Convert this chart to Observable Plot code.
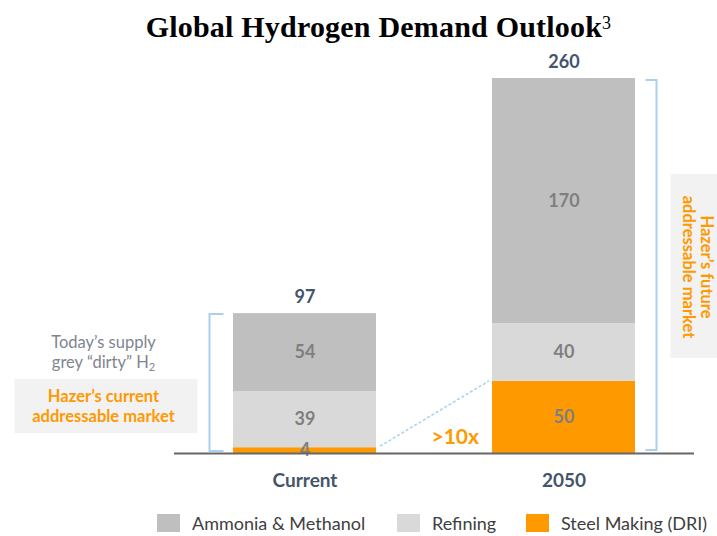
<!DOCTYPE html>
<html>
<head>
<meta charset="utf-8">
<script src="https://cdn.jsdelivr.net/npm/d3@7"></script>
<script src="https://cdn.jsdelivr.net/npm/@observablehq/plot@0.6"></script>
<style>
  body { margin: 0; background: #fff; width: 717px; height: 536px; overflow: hidden; font-family: Lato, "Open Sans", sans-serif; }
  #title { height: 40px; box-sizing: border-box; padding-left: 40px; padding-top: 10px; text-align: center; font-family: "Liberation Serif", "DejaVu Serif", serif; font-weight: bold; font-size: 30px; color: #000; line-height: 34px; letter-spacing: 0.2px; }
  #title sup { font-weight: normal; font-size: 18px; vertical-align: 0; position: relative; top: -8px; }
  #legend { position: relative; height: 30px; }
  .li { position: absolute; top: 7px; display: flex; align-items: center; font-size: 18px; line-height: 20px; color: #404040; }
  .sw { width: 23px; height: 18px; margin-right: 12px; }
</style>
</head>
<body>
<div id="title">Global Hydrogen Demand Outlook<sup>3</sup></div>
<div id="chart"></div>
<div id="legend"></div>
<script>
const periods = ["Current", "2050"];
const sectors = ["Steel Making (DRI)", "Refining", "Ammonia & Methanol"];
const legendOrder = ["Ammonia & Methanol", "Refining", "Steel Making (DRI)"];
const colors = ["#ff9900", "#d9d9d9", "#bfbfbf"];
const ammonia = [54, 170];
const refining = [39, 40];
const steel = [4, 50];
const totals = [97, 260];

const rows = [];
periods.forEach((p, i) => {
  rows.push({period: p, sector: sectors[0], value: steel[i]});
  rows.push({period: p, sector: sectors[1], value: refining[i]});
  rows.push({period: p, sector: sectors[2], value: ammonia[i]});
});
const totalRows = periods.map((p, i) => ({period: p, total: totals[i]}));

const W = 717, H = 466;
const plot = Plot.plot({
  width: W, height: H,
  marginTop: 38, marginBottom: 53, marginLeft: 174, marginRight: 23,
  style: {fontFamily: "Lato, 'Open Sans', sans-serif", background: "transparent", overflow: "visible"},
  x: {domain: periods, range: [232, 636], paddingInner: 0.446, paddingOuter: 0, label: null},
  y: {domain: [0, 260], axis: null},
  color: {domain: sectors, range: colors},
  marks: [
    Plot.barY(rows, Plot.stackY({x: "period", y: "value", z: "sector", fill: "sector", order: sectors})),
    Plot.text(rows, Plot.stackY({x: "period", y: "value", z: "sector", order: sectors, text: d => String(d.value),
      fill: "#7f7f7f", fontSize: 18, fontWeight: "bold"})),
    Plot.text(totalRows, {x: "period", y: "total", text: d => String(d.total), dy: -16, fill: "#44546a", fontSize: 18, fontWeight: "bold"}),
    Plot.ruleY([0], {stroke: "#666", strokeWidth: 2}),
    Plot.axisX({tickSize: 0, tickPadding: 20, fontSize: 19, fontWeight: "bold", color: "#44546a", label: null})
  ]
});
document.getElementById("chart").appendChild(plot);

// annotations positioned from the plot's scales
const xs = plot.scale("x"), ys = plot.scale("y");
const bw = xs.bandwidth;
const xStart = p => xs.apply(p);
const xMid = p => xs.apply(p) + bw / 2;
const y = v => ys.apply(v);
const svg = d3.select(plot);
const g = svg.append("g");
const blue = "#a9d0ee";

// left bracket
const lbx = xMid("Current") - 95;
g.append("path").attr("fill", "none").attr("stroke", blue).attr("stroke-width", 2)
  .attr("d", `M${lbx + 14},${y(totals[0]) + 1}H${lbx}V${y(0) - 2}H${lbx + 14}`);
// right bracket
const rbx = xMid("2050") + 93;
g.append("path").attr("fill", "none").attr("stroke", blue).attr("stroke-width", 2)
  .attr("d", `M${rbx - 11},${y(totals[1]) + 2}H${rbx}V${y(0) - 3}H${rbx - 11}`);
// dotted connector
g.append("line").attr("stroke", blue).attr("stroke-width", 1.5).attr("stroke-dasharray", "3,2")
  .attr("x1", xStart("Current") + bw + 4).attr("y1", y(steel[0]) - 1)
  .attr("x2", xStart("2050") - 3).attr("y2", y(steel[1]));
// >10x
g.append("text").attr("x", xStart("2050") - 13).attr("y", y(0) - 9).attr("text-anchor", "end")
  .attr("fill", "#ff9900").attr("font-size", 21).attr("font-weight", "bold").text(">10x");

// left annotation
const lcx = lbx - 106;
g.append("text").attr("x", lcx).attr("y", y(0) - 105).attr("text-anchor", "middle")
  .attr("fill", "#7f8491").attr("font-size", 16.5).text("Today’s supply");
const t2 = g.append("text").attr("x", lcx).attr("y", y(0) - 85).attr("text-anchor", "middle")
  .attr("fill", "#7f8491").attr("font-size", 16.5);
t2.append("tspan").text("grey “dirty” H");
t2.append("tspan").attr("font-size", 11).attr("dy", 3).text("2");
g.append("rect").attr("x", lbx - 195).attr("y", y(0) - 74).attr("width", 183).attr("height", 54).attr("fill", "#f2f2f2");
g.append("text").attr("x", lcx).attr("y", y(0) - 51).attr("text-anchor", "middle")
  .attr("fill", "#ff9900").attr("font-size", 16.5).attr("font-weight", "bold").text("Hazer’s current");
g.append("text").attr("x", lcx).attr("y", y(0) - 31).attr("text-anchor", "middle")
  .attr("fill", "#ff9900").attr("font-size", 16.5).attr("font-weight", "bold").text("addressable market");

// right annotation
g.append("rect").attr("x", rbx + 14).attr("y", y(0) - 279).attr("width", 60).attr("height", 184).attr("fill", "#f2f2f2");
const rt = g.append("text").attr("transform", `translate(${rbx + 40},${y(0) - 186}) rotate(90)`)
  .attr("text-anchor", "middle").attr("fill", "#ff9900").attr("font-size", 16.5).attr("font-weight", "bold");
rt.append("tspan").attr("x", 0).attr("dy", -4).text("Hazer’s future");
rt.append("tspan").attr("x", 0).attr("dy", 18).text("addressable market");

// legend
const lx = [157, 397, 526];
const leg = document.getElementById("legend");
legendOrder.forEach((s, i) => {
  const item = document.createElement("div");
  item.className = "li";
  item.style.left = lx[i] + "px";
  const sw = document.createElement("span");
  sw.className = "sw";
  sw.style.background = colors[sectors.indexOf(s)];
  item.appendChild(sw);
  item.appendChild(document.createTextNode(s));
  leg.appendChild(item);
});
</script>
</body>
</html>
